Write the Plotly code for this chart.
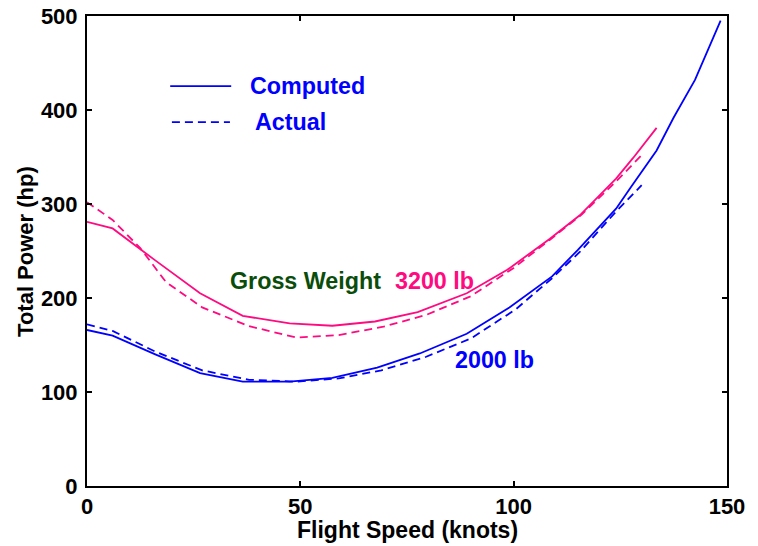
import plotly.graph_objects as go

# Data
comp2000_x = [0, 6, 16, 26.5, 36.5, 47.5, 57.5, 68, 78, 89, 99, 109, 115, 124, 127.5, 133.5, 137.5, 142.5, 148.5]
comp2000_y = [166, 160, 140, 120, 111, 111, 115, 126, 141, 162, 190, 223, 251, 295, 318, 357, 392, 432, 495]

act2000_x = [0, 6, 16, 27, 38, 49, 59, 69, 79.5, 90, 100.5, 109, 115.5, 124, 130]
act2000_y = [172, 165, 143, 123, 113, 111, 114.5, 123, 137.5, 157, 188, 221, 249, 292, 320]

comp3200_x = [0, 6, 16, 26.5, 36.5, 47.5, 57.5, 67.5, 77.5, 89, 98.5, 108.5, 115.5, 124, 128, 133.5]
comp3200_y = [281, 274, 240, 205, 181, 173, 170.5, 175, 185, 205, 230, 263, 288, 327, 349, 381]

act3200_x = [0, 6, 12.5, 18.5, 27, 38, 49, 59, 69.5, 79.5, 90, 100, 108.5, 116, 124, 130]
act3200_y = [302, 283, 253, 217, 190, 170, 158, 160.5, 169.5, 182, 202, 232, 262, 289, 324, 352]

x_ticks = [0, 50, 100, 150]
y_ticks = [0, 100, 200, 300, 400, 500]

BLUE = "#0000ff"
PINK = "#ff0a80"
GREEN = "#0a4d0a"
FONT = "Liberation Sans, Arial, sans-serif"

fig = go.Figure()
lw = 1.8
fig.add_trace(go.Scatter(x=comp3200_x, y=comp3200_y, mode="lines",
                         line=dict(color=PINK, width=lw)))
fig.add_trace(go.Scatter(x=act3200_x, y=act3200_y, mode="lines",
                         line=dict(color=PINK, width=lw, dash="8px,5px")))
fig.add_trace(go.Scatter(x=comp2000_x, y=comp2000_y, mode="lines",
                         line=dict(color=BLUE, width=lw)))
fig.add_trace(go.Scatter(x=act2000_x, y=act2000_y, mode="lines",
                         line=dict(color=BLUE, width=lw, dash="8px,5px")))

# legend samples
fig.add_shape(type="line", x0=19.5, x1=33.8, y0=425.5, y1=425.5,
              line=dict(color=BLUE, width=lw))
fig.add_shape(type="line", x0=19.9, x1=33.5, y0=387, y1=387,
              line=dict(color=BLUE, width=lw, dash="8px,5px"))

def ann(text, x, y, color, size=23.3):
    fig.add_annotation(text=text, x=x, y=y, xref="x", yref="y", showarrow=False,
                       xanchor="left", yanchor="middle",
                       font=dict(family=FONT, size=size, color=color, weight="bold"))

ann("Computed", 37.7, 425.5, BLUE)
ann("Actual", 38.9, 387, BLUE)
ann("Gross Weight", 33, 218, GREEN)
ann("3200 lb", 71.7, 218, PINK)
ann("2000 lb", 85.8, 134, BLUE)

# axis titles
fig.add_annotation(text="Flight Speed (knots)", x=0.5, y=-0.094, xref="paper", yref="paper",
                   showarrow=False, xanchor="center", yanchor="middle",
                   font=dict(family=FONT, size=23, color="black", weight="bold"))
fig.add_annotation(text="Total Power (hp)", x=-0.097, y=0.5, xref="paper", yref="paper",
                   showarrow=False, xanchor="center", yanchor="middle", textangle=-90,
                   font=dict(family=FONT, size=22, color="black", weight="bold"))

axis_common = dict(showgrid=False, zeroline=False, showline=True, linecolor="black",
                   linewidth=2, mirror="allticks", ticks="inside", ticklen=5,
                   tickwidth=1.5, tickcolor="black",
                   tickfont=dict(family=FONT, size=22, color="black", weight="bold"))

fig.update_xaxes(range=[0, 150], tickvals=x_ticks, ticklabelstandoff=0, **axis_common)
fig.update_yaxes(range=[0, 500], tickvals=y_ticks, ticklabelstandoff=3, **axis_common)

fig.update_layout(width=758, height=546, showlegend=False,
                  margin=dict(l=87, r=31, t=16, b=60, autoexpand=False),
                  paper_bgcolor="white", plot_bgcolor="white")

fig.write_html("out.html")
